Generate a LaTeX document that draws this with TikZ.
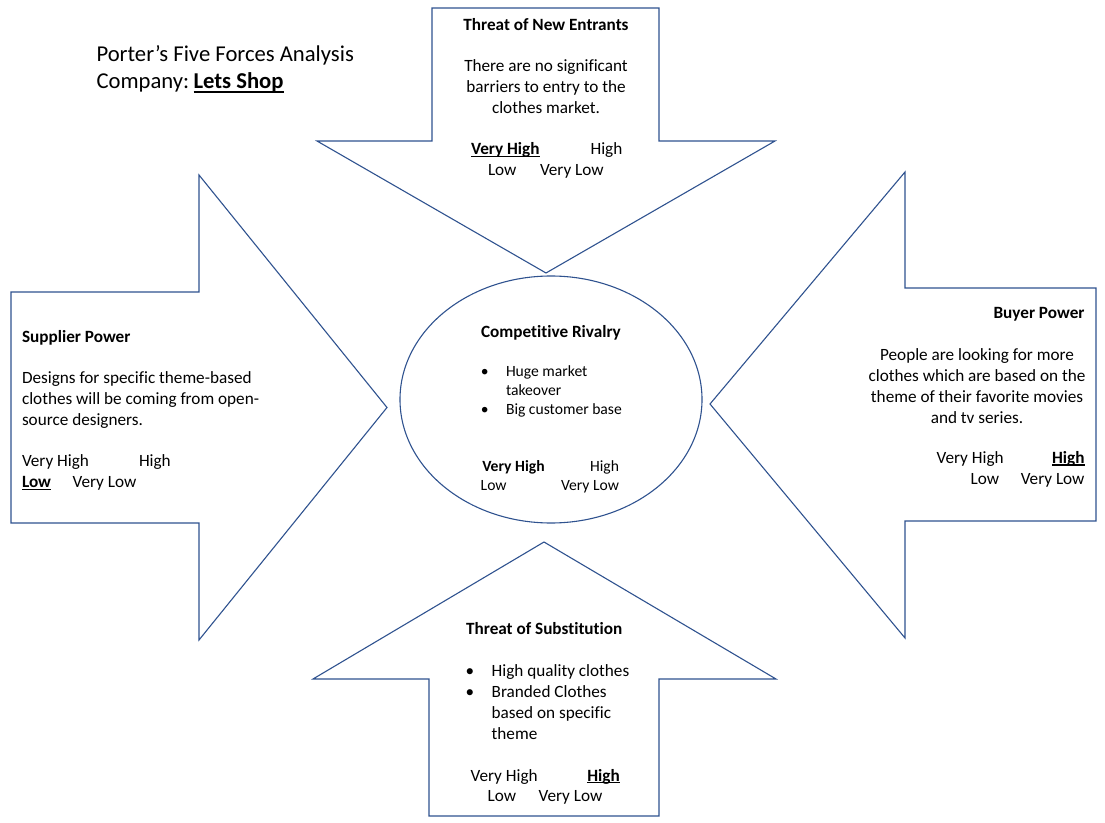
\documentclass[tikz,border=0pt]{standalone}
\usepackage{fontspec}
\setmainfont{Carlito}[Ligatures=NoCommon]
\definecolor{outl}{HTML}{2F528F}
\newcommand\ulw[1]{\setbox0\hbox{#1}\rlap{\rule[-1.4pt]{\wd0}{0.7pt}}\box0}
\newcommand\ulwt[1]{\setbox0\hbox{#1}\rlap{\rule[-2.8pt]{\wd0}{1.05pt}}\box0}
\begin{document}
\begin{tikzpicture}[x=0.64pt,y=-0.64pt,
  shapeline/.style={draw=outl,line width=0.7pt,line join=miter},
  t/.style={inner sep=0pt,outer sep=0pt,font=\fontsize{11}{13.4}\selectfont},
  ts/.style={inner sep=0pt,outer sep=0pt,font=\fontsize{10}{12.2}\selectfont},
  ttl/.style={inner sep=0pt,outer sep=0pt,font=\fontsize{14.5}{17}\selectfont},
  bw/.style={anchor=base west},
  be/.style={anchor=base east},
  bc/.style={anchor=base}]
\useasboundingbox (0,0) rectangle (1105,823);
\fill[white] (0,0) rectangle (1105,823);

% shapes
\draw[shapeline] (432,8) -- (659,8) -- (659,141) -- (775,141) -- (546,273) -- (317,141) -- (432,141) -- cycle;
\draw[shapeline] (11,292) -- (199,292) -- (199,175) -- (387,407.5) -- (199,640) -- (199,523) -- (11,523) -- cycle;
\draw[shapeline] (1096,288) -- (905,288) -- (905,172) -- (710,404) -- (905,638) -- (905,521) -- (1096,521) -- cycle;
\draw[shapeline] (429,816) -- (659,816) -- (659,679) -- (776,679) -- (544,542) -- (313,679) -- (429,679) -- cycle;
\draw[shapeline] (551,399.5) ellipse [x radius=96.64pt, y radius=79.04pt];

% title
\node[ttl,bw] (title1) at (96.5,61.5) {Porter’s Five Forces Analysis};
\node[ttl,bw] (title2) at (96.5,88.3) {Company:\kern-1.6pt{} \textbf{\ulwt{Lets Shop}}};

% top: threat of new entrants
\node[t,bc] (nhead) at (546,30.7) {\textbf{Threat of New Entrants}};
\node[t,bc] (nb1) at (546,71.7) {There are no significant};
\node[t,bc] (nb2) at (546,92.7) {barriers to entry to the};
\node[t,bc] (nb3) at (546,113.7) {clothes market.};
\node[t,bw] (nvh) at (471,154.7) {\textbf{\ulw{Very High}}};
\node[t,bw] (nh) at (590.6,154.7) {High};
\node[t,bw] (nl) at (488,175.7) {Low};
\node[t,bw] (nvl) at (540,175.7) {Very Low};

% left: supplier power
\node[t,bw] (shead) at (22,342.4) {\textbf{Supplier Power}};
\node[t,bw] (sb1) at (22,383.4) {Designs for specific theme-based};
\node[t,bw] (sb2) at (22,404.4) {clothes will be coming from open-};
\node[t,bw] (sb3) at (22,425.4) {source designers.};
\node[t,bw] (svh) at (22,466.7) {Very High};
\node[t,bw] (sh) at (139,466.7) {High};
\node[t,bw] (sl) at (22,487.7) {\textbf{\ulw{Low}}};
\node[t,bw] (svl) at (72.7,487.7) {Very Low};

% right: buyer power
\node[t,be] (bhead) at (1084.5,318.4) {\textbf{Buyer Power}};
\node[t,bc] (bb1) at (977,360) {People are looking for more};
\node[t,bc] (bb2) at (977,381) {clothes which are based on the};
\node[t,bc] (bb3) at (977,402) {theme of their favorite movies};
\node[t,bc] (bb4) at (977,423) {and tv series.};
\node[t,bw] (bvh) at (936.7,463.4) {Very High};
\node[t,be] (bh) at (1084.5,463.4) {\textbf{\ulw{High}}};
\node[t,bw] (bl) at (970.7,484.4) {Low};
\node[t,be] (bvl) at (1084.5,484.4) {Very Low};

% bottom: threat of substitution
\node[t,bc] (uhead) at (544.2,634.4) {\textbf{Threat of Substitution}};
\node[t,bc] (ud1) at (470,676.7) {\textbullet};
\node[t,bw] (ub1) at (491.7,676.7) {High quality clothes};
\node[t,bc] (ud2) at (470,697.7) {\textbullet};
\node[t,bw] (ub2) at (491.7,697.7) {Branded Clothes};
\node[t,bw] (ub3) at (491.7,718.7) {based on specific};
\node[t,bw] (ub4) at (491.7,739.7) {theme};
\node[t,bw] (uvh) at (470.7,781) {Very High};
\node[t,bw] (uh) at (587.3,781) {\textbf{\ulw{High}}};
\node[t,bw] (ul) at (487.7,801.7) {Low};
\node[t,bw] (uvl) at (538.7,801.7) {Very Low};

% centre: competitive rivalry
\node[t,bc] (chead) at (551,337.4) {\textbf{Competitive Rivalry}};
\node[ts,bc] (cd1) at (484.7,376.7) {\textbullet};
\node[ts,bw] (cb1) at (506,376.7) {Huge market};
\node[ts,bw] (cb2) at (506,395.7) {takeover};
\node[ts,bc] (cd2) at (484.7,414.7) {\textbullet};
\node[ts,bw] (cb3) at (506,414.7) {Big customer base};
\node[ts,bw] (cvh) at (482.3,471) {\textbf{Very High}};
\node[ts,be] (ch) at (619,471) {High};
\node[ts,bw] (cl) at (480.7,490) {Low};
\node[ts,be] (cvl) at (619,490) {Very Low};
\end{tikzpicture}
\end{document}
